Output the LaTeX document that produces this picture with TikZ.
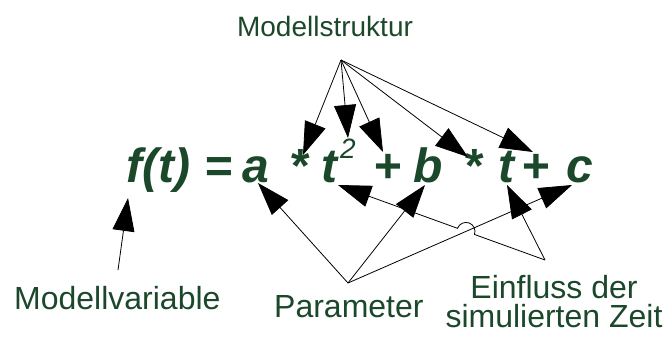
\documentclass[tikz,border=0pt]{standalone}
\usepackage{fontspec}
\setmainfont{Liberation Sans}
\usepackage{xcolor}
\usetikzlibrary{arrows.meta, calc}
\definecolor{modelgreen}{RGB}{27,72,42}

\begin{document}
\begin{tikzpicture}[x=1pt, y=1pt,
    beschriftung/.style={text=modelgreen, inner sep=0pt, font=\fontsize{32}{29}\selectfont},
    formel/.style={text=modelgreen, inner sep=0pt, anchor=base west, font=\fontsize{48}{48}\selectfont\bfseries\itshape},
    pfeil/.style={line width=0.8pt, -{Triangle[length=33pt, width=22pt]}}]
    \useasboundingbox (0,0) rectangle (671,338);

    % Beschriftungen
    \node[beschriftung, font=\fontsize{28}{28}\selectfont, anchor=base] (struktur) at (325,301) {Modellstruktur};
    \node[beschriftung, anchor=base west] (modvar) at (14,29) {Modellvariable};
    \node[beschriftung, anchor=base west] (param) at (274,21) {Parameter};
    \node[beschriftung, align=center, anchor=base] (einfluss) at (554,11) {Einfluss der\\simulierten Zeit};

    % Formel
    \node[formel] (ft) at (126,156) {f(t)};
    \node[formel] (eq) at (204,156) {=};
    \node[formel] (pa) at (242,156) {a};
    \node[formel] (mal1) at (289,156) {*};
    \node[formel] (ta) at (321,156) {t};
    \node[formel, font=\fontsize{28}{28}\selectfont\itshape] (quadrat) at (340,180) {2};
    \node[formel] (plus1) at (373,156) {+};
    \node[formel] (pb) at (413,156) {b};
    \node[formel] (mal2) at (463,156) {*};
    \node[formel] (tb) at (498,156) {t};
    \node[formel] (plus2) at (521,156) {+};
    \node[formel] (pc) at (566,156) {c};

    % Ausgangspunkte und Spitzen
    \coordinate (oben) at (341,278);
    \coordinate (unten-p) at (348,55);
    \coordinate (unten-e) at (545,78);
    \coordinate (unten-v) at (118,68);
    \coordinate (s-mal1) at (303,183);
    \coordinate (s-ta) at (348,200);
    \coordinate (s-plus1) at (383,186);
    \coordinate (s-mal2) at (468,181);
    \coordinate (s-tb) at (533,186);
    \coordinate (s-ft) at (128,140);
    \coordinate (s-pa) at (258,155);
    \coordinate (s-pb) at (425,153);
    \coordinate (s-pc) at (572,153);
    \coordinate (s-quadrat) at (338,153);
    \coordinate (s-tb2) at (507,153);
    \coordinate (sprung) at (466,106.6);

    % Modellstruktur
    \foreach \ziel in {s-mal1, s-ta, s-plus1, s-mal2, s-tb}
        \draw[pfeil] (oben) -- (\ziel);

    % Modellvariable
    \draw[pfeil] (unten-v) -- (s-ft);

    % Parameter
    \draw[pfeil] (unten-p) -- (s-pa);
    \draw[pfeil] (unten-p) -- (s-pb);
    \draw[pfeil] (unten-p) -- (s-pc);

    % Einfluss der simulierten Zeit
    \draw[pfeil] (unten-e) -- (s-tb2);
    \draw[pfeil] (unten-e) -- ($(sprung)!9pt!(unten-e)$)
        arc[start angle=-19.9, end angle=160.1, radius=9pt] -- (s-quadrat);
\end{tikzpicture}
\end{document}
